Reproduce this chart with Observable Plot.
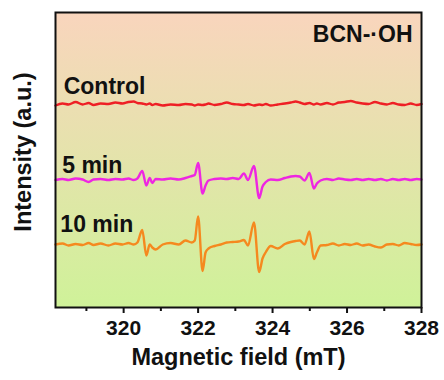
<!DOCTYPE html>
<html>
<head>
<meta charset="utf-8">
<script src="https://cdn.jsdelivr.net/npm/d3@7"></script>
<script src="https://cdn.jsdelivr.net/npm/@observablehq/plot@0.6"></script>
<style>
  html, body { margin: 0; padding: 0; background: #ffffff; }
  #chart { width: 444px; height: 380px; }
</style>
</head>
<body>
<div id="chart"></div>
<script>
// ---- Data ----
const field = [318.17, 318.36, 318.52, 318.71, 318.90, 319.06, 319.19, 319.38, 319.59, 319.78,
  319.97, 320.13, 320.27, 320.37, 320.50, 320.61, 320.70, 320.77, 320.86, 321.05,
  321.26, 321.48, 321.66, 321.83, 321.91, 322.00, 322.12, 322.20, 322.28, 322.44,
  322.61, 322.77, 322.93, 323.09, 323.23, 323.34, 323.50, 323.64, 323.73, 323.82,
  323.95, 324.14, 324.33, 324.49, 324.62, 324.73, 324.86, 324.99, 325.11, 325.19,
  325.29, 325.46, 325.62, 325.78, 325.94, 326.10, 326.26, 326.42, 326.58, 326.75,
  326.91, 327.07, 327.23, 327.39, 327.55, 327.71, 327.87, 328.00];

const controlI = [202, 204, 203, 205.5, 203, 204.5, 202.5, 204, 203.5, 205,
  204, 205.5, 206, 204.5, 204, 203, 204, 202.5, 203.5, 202,
  203, 202.5, 203.5, 203, 202, 203, 202.5, 203, 204, 202.5,
  203.5, 205, 203.5, 203, 202.5, 203.5, 202, 203, 202.5, 203.5,
  202, 203, 204, 205, 206, 205, 203.5, 204.5, 203, 204,
  203, 204.5, 203, 205, 205.5, 206.5, 205, 204, 203.5, 205.5,
  204, 203, 204.5, 203, 202.5, 204, 202.5, 203.5];

const min5I = [127.5, 128.5, 127.5, 129, 128, 125.5, 128, 128.5, 127.5, 128.5,
  128, 129, 127.5, 129, 136.5, 122, 129.5, 124.5, 128.5, 128,
  129, 128, 129.5, 131.5, 132.5, 144.5, 114, 122, 127, 128.5,
  129, 128.5, 129.5, 128.5, 134, 127.5, 141.5, 109.5, 121, 125.5,
  128, 127.5, 129.5, 131, 131.5, 131, 127, 134.5, 119, 124,
  127, 128.5, 127.5, 129, 128, 127.5, 128.5, 127.5, 128.5, 127.5,
  128.5, 127, 128.5, 127.5, 128.5, 127.5, 128.5, 128];

const min10I = [63, 64, 62, 63.5, 62.5, 64.5, 62.5, 64, 62, 64,
  63, 64.5, 63, 65, 77.5, 52, 63, 60, 58, 63,
  64.5, 63, 67, 65, 67, 91, 36.5, 55, 59, 61.5,
  63, 65, 65.5, 66, 67.5, 62, 85, 35.5, 49, 55.5,
  61.5, 59, 63.5, 65.5, 66.5, 67, 63, 76, 48.5, 55,
  62, 62.5, 64, 62, 63.5, 62.5, 64, 62, 63, 61,
  60, 63, 63.5, 62, 64.5, 63.5, 62.5, 63];

const seriesNames = ["Control", "5 min", "10 min"];
const seriesValues = [controlI, min5I, min10I];
const seriesColors = ["#ee1f25", "#ee26e2", "#f5891f"];

const labelText = ["Control", "5 min", "10 min"];
const labelField = [318.39, 318.35, 318.30];
const labelIntensity = [220.5, 142.3, 83];

const sampleName = "BCN-·OH";
const majorTicks = [320, 322, 324, 326, 328];
const minorTicks = [319, 321, 323, 325, 327];
const xLabel = "Magnetic field (mT)";
const yLabel = "Intensity (a.u.)";

// ---- Build table ----
const rows = [];
seriesNames.forEach((name, s) => {
  field.forEach((f, i) => rows.push({series: name, field: f, intensity: seriesValues[s][i]}));
});
const labels = labelText.map((t, i) => ({text: t, field: labelField[i], intensity: labelIntensity[i]}));

const FONT = "'Liberation Sans', Arial, Helvetica, sans-serif";

const chart = Plot.plot({
  width: 444,
  height: 380,
  marginLeft: 55,
  marginRight: 23,
  marginTop: 12,
  marginBottom: 73,
  style: {fontFamily: FONT, background: "transparent", color: "#111"},
  x: {domain: [318.17, 328]},
  y: {domain: [0, 295], axis: null},
  color: {domain: seriesNames, range: seriesColors},
  marks: [
    Plot.frame({fill: "url(#bgGrad)", stroke: null}),
    Plot.line(rows, {x: "field", y: "intensity", z: "series", stroke: "series", strokeWidth: 2.4, strokeLinejoin: "round", curve: "monotone-x"}),
    Plot.text(labels, {x: "field", y: "intensity", text: "text", textAnchor: "start", fontSize: 23, fontWeight: "bold", fill: "#111"}),
    Plot.text([sampleName], {frameAnchor: "top-right", dx: -9, dy: 13, textAnchor: "end", lineAnchor: "top", fontSize: 23, fontWeight: "bold", fill: "#111"}),
    Plot.axisX({ticks: majorTicks, tickSize: 6, tickPadding: 7, tickFormat: d => String(d), fontSize: 21, fontWeight: "bold", strokeWidth: 2, label: null, fill: "#111"}),
    Plot.axisX({ticks: minorTicks, tickSize: 4, tickFormat: () => "", strokeWidth: 2, label: null}),
    Plot.text([xLabel], {frameAnchor: "bottom", dy: 57, fontSize: 23.5, fontWeight: "bold", fill: "#111"}),
    Plot.text([yLabel], {frameAnchor: "left", textAnchor: "middle", dx: -32, dy: -8, rotate: -90, fontSize: 23.5, fontWeight: "bold", fill: "#111"}),
    Plot.frame({stroke: "#111", strokeWidth: 2})
  ]
});

// gradient background definition
const svg = d3.select(chart);
const defs = svg.insert("defs", ":first-child");
const grad = defs.append("linearGradient").attr("id", "bgGrad")
  .attr("x1", 0).attr("y1", 0).attr("x2", 0).attr("y2", 1);
grad.append("stop").attr("offset", "0%").attr("stop-color", "#f9d5bd");
grad.append("stop").attr("offset", "100%").attr("stop-color", "#cff299");

document.getElementById("chart").appendChild(chart);
</script>
</body>
</html>
